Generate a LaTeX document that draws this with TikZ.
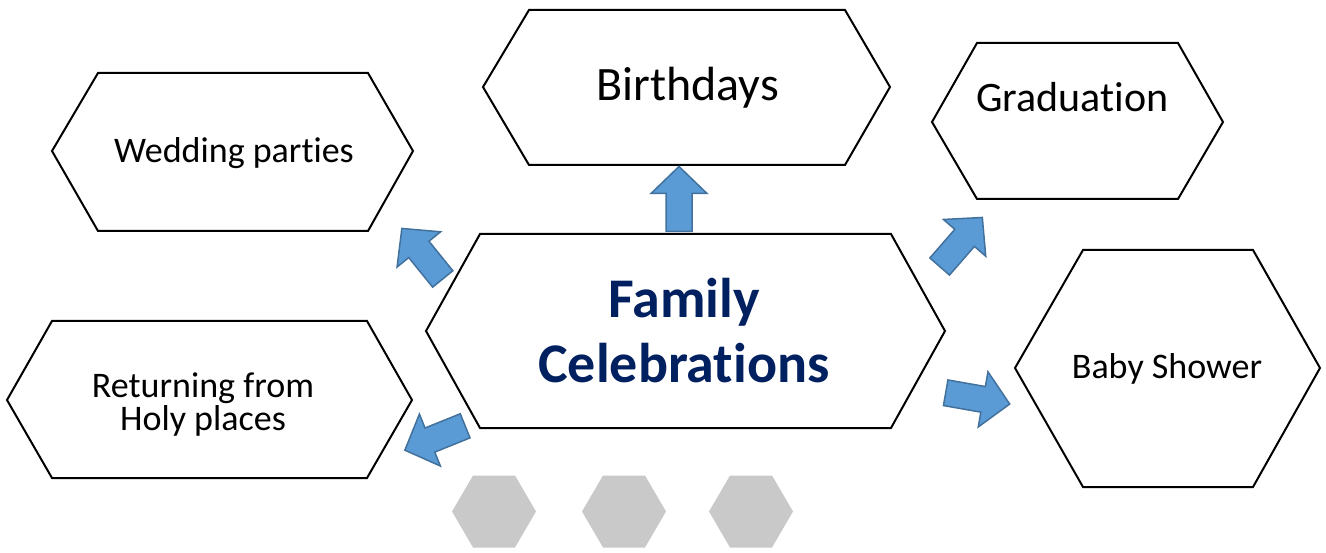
\documentclass[tikz,border=0pt]{standalone}
\usepackage{fontspec}
\setmainfont{Carlito}[Ligatures=NoCommon]
\definecolor{arrowblue}{HTML}{5B9BD5}
\definecolor{arrowedge}{HTML}{41719C}
\definecolor{titlenavy}{HTML}{002060}
\definecolor{dotgray}{HTML}{C9C9C9}
% block arrow centred at (#1,#2), pointing at angle #3
\newcommand\flowarrow[3]{%
  \draw[blockarrow,shift={(#1,#2)},rotate=#3]
    (-32.5,-13) -- (5.5,-13) -- (5.5,-28) -- (32.5,0) -- (5.5,28) -- (5.5,13) -- (-32.5,13) -- cycle;}
\begin{document}
\begin{tikzpicture}[x=1pt,y=-1pt,
  hexline/.style={draw=black,line width=2pt,line join=miter,fill=white},
  dothex/.style={fill=dotgray,draw=none},
  blockarrow/.style={fill=arrowblue,draw=arrowedge,line width=1.5pt,line join=miter},
  txt/.style={inner sep=0pt,anchor=base,align=center,text=black},
  small/.style={font=\fontsize{36}{33}\selectfont}]
\useasboundingbox (0,0) rectangle (1326,553);

% outlines
\draw[hexline] (52,151) -- (98,73) -- (368,73) -- (413,151) -- (368,231) -- (98,231) -- cycle;
\draw[hexline] (483,87) -- (529,10) -- (845,10) -- (890,87) -- (845,165) -- (529,165) -- cycle;
\draw[hexline] (932,122) -- (977,43) -- (1178,43) -- (1223,122) -- (1178,199) -- (977,199) -- cycle;
\draw[hexline] (1015,368) -- (1083,250) -- (1253,250) -- (1320,368) -- (1253,487) -- (1083,487) -- cycle;
\draw[hexline] (426,331) -- (480,234) -- (891,234) -- (945,331) -- (891,428) -- (480,428) -- cycle;
\draw[hexline] (7,400) -- (52,321) -- (367,321) -- (412,400) -- (367,478) -- (52,478) -- cycle;

% grey dots along the bottom
\foreach \cx in {494,624,751}
  \fill[dothex] (\cx,511.5) ++(-42,0) -- ++(21,-36) -- ++(42,0) -- ++(21,36) -- ++(-21,36) -- ++(-42,0) -- cycle;

% arrows
\flowarrow{679}{199}{90}
\flowarrow{422.3}{253.7}{129}
\flowarrow{961}{242}{49}
\flowarrow{977.7}{398.4}{-10}
\flowarrow{435}{438}{202}

% labels (multi-line nodes sit on the baseline of their last line)
\node[txt,small] (wedding) at (234,163) {Wedding parties};
\node[txt,font=\fontsize{48}{50}\selectfont] (birthdays) at (687.5,101) {Birthdays};
\node[txt,font=\fontsize{42}{44}\selectfont] (graduation) at (1072.5,112) {Graduation};
\node[txt,small] (baby) at (1167,378) {Baby Shower};
\node[txt,small] (returning) at (203,430) {Returning from\\Holy places};
\node[txt,text=titlenavy,font=\fontsize{56}{65}\selectfont\bfseries] (family) at (684,382) {Family\\Celebrations};
\end{tikzpicture}
\end{document}
